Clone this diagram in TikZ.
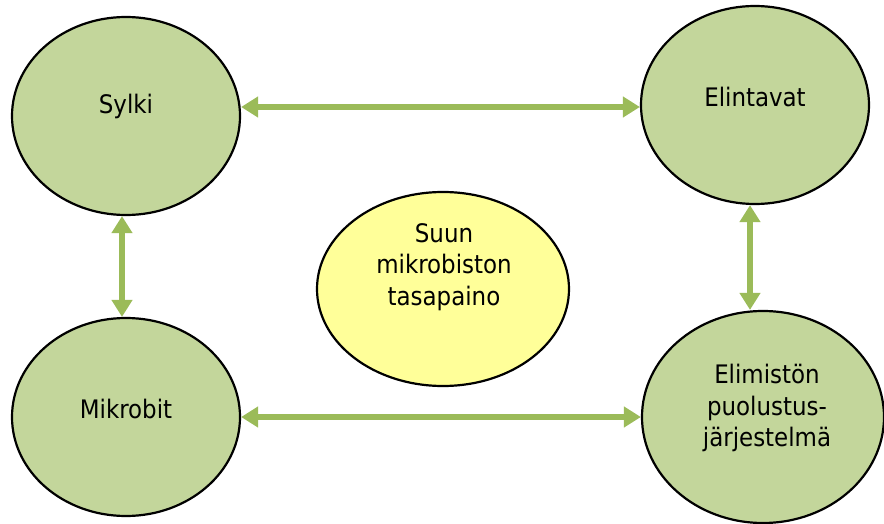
\documentclass[tikz,border=0pt]{standalone}
\usepackage{fontspec}
\setmainfont{DejaVu Sans Condensed}
\usetikzlibrary{shapes.geometric,arrows.meta,calc}
\definecolor{ellgreen}{HTML}{C3D69B}
\definecolor{arrgreen}{HTML}{9BBB59}
\definecolor{ellyellow}{HTML}{FFFF99}
\tikzset{
  bubble/.style={ellipse, draw=black, line width=2.2pt, inner sep=0pt},
  greenbubble/.style={bubble, fill=ellgreen},
  yellowbubble/.style={bubble, fill=ellyellow},
  lbl/.style={font=\fontsize{25.5}{31.5}\selectfont, align=center, inner sep=0pt},
  link/.style={draw=arrgreen, line width=6.5pt,
    {Triangle[length=17pt,width=20pt]}-{Triangle[length=17pt,width=20pt]}}
}
\begin{document}
\begin{tikzpicture}[x=1pt,y=-1pt]
\useasboundingbox (0,0) rectangle (884,524);
\node[greenbubble, minimum width=228pt, minimum height=198pt] (sylki) at (126,116) {};
\node[greenbubble, minimum width=228pt, minimum height=198pt] (elintavat) at (755,105) {};
\node[greenbubble, minimum width=228pt, minimum height=198pt] (mikrobit) at (126,417) {};
\node[greenbubble, minimum width=242pt, minimum height=212pt] (elim) at (763,417) {};
\node[yellowbubble, minimum width=252pt, minimum height=194pt] (suun) at (443,289) {};
\node[lbl, anchor=base] (tsylki) at (126,114) {Sylki};
\node[lbl, anchor=base] (telintavat) at (755,107) {Elintavat};
\node[lbl, anchor=base] (tmikrobit) at (126,418) {Mikrobit};
\node[lbl] (telim) at (767,408) {Elimistön\\puolustus-\\järjestelmä};
\node[lbl] (tsuun) at (444,267) {Suun\\mikrobiston\\tasapaino};
\draw[link] (sylki.east |- 0,107) -- (elintavat.west |- 0,107);
\draw[link] (mikrobit.east) -- (elim.west |- mikrobit.east);
\draw[link] ($(sylki.south)+(-4,0)$) -- ($(mikrobit.north)+(-4,0)$);
\draw[link] ($(elintavat.south)+(-5,0)$) -- ($(elintavat.south |- elim.north)+(-5,0)$);
\end{tikzpicture}
\end{document}
